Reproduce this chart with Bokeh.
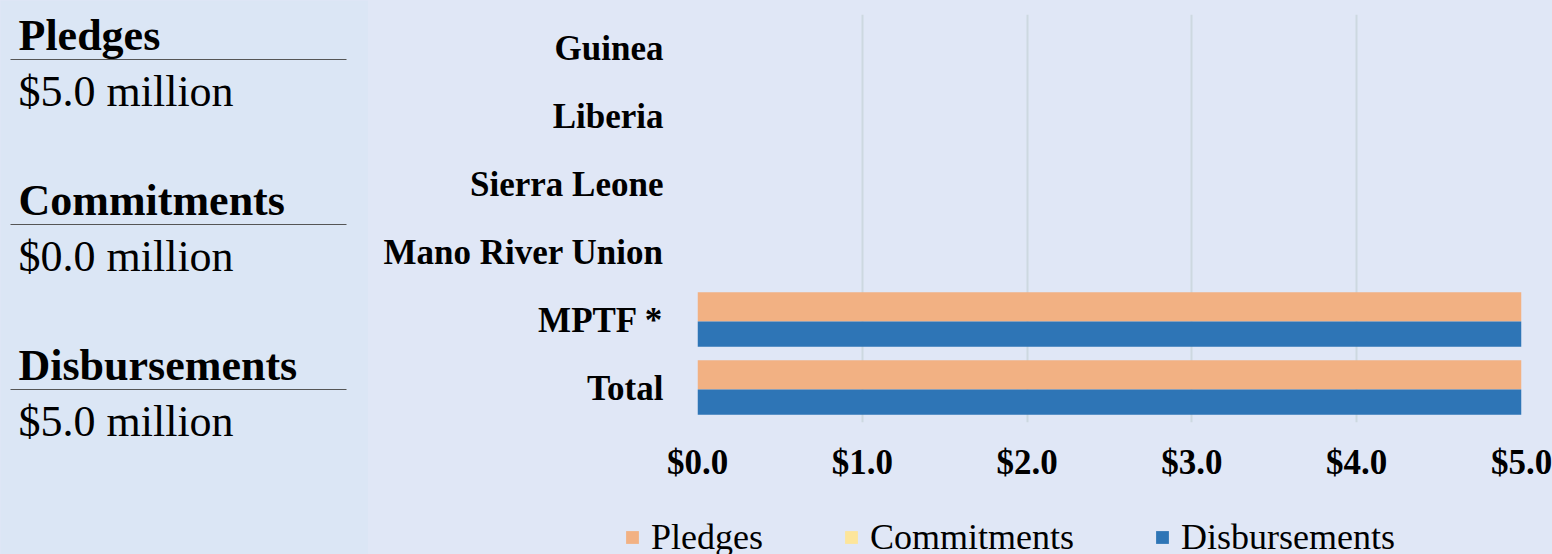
from bokeh.plotting import figure
from bokeh.layouts import row, column
from bokeh.models import (FactorRange, Range1d, FixedTicker, NumeralTickFormatter,
                          ColumnDataSource, Legend, LegendItem)
from bokeh.transform import dodge
from bokeh.embed import file_html
from bokeh.resources import INLINE
from bokeh.core.properties import value

# ---- data ----
categories = ["Guinea", "Liberia", "Sierra Leone", "Mano River Union", "MPTF *", "Total"]
pledges = [0.0, 0.0, 0.0, 0.0, 5.0, 5.0]
commitments = [0.0, 0.0, 0.0, 0.0, 0.0, 0.0]
disbursements = [0.0, 0.0, 0.0, 0.0, 5.0, 5.0]
x_ticks = [0, 1, 2, 3, 4, 5]
series_names = ["Pledges", "Commitments", "Disbursements"]

summary_titles = ["Pledges", "Commitments", "Disbursements"]
summary_values = [5.0, 0.0, 5.0]

SERIF = "Liberation Serif"
LEFT_BG = "#dbe6f5"
RIGHT_BG = "#e0e7f6"
C_PLEDGE = "#f2b183"
C_COMMIT = "#fde59a"
C_DISB = "#2e75b6"
series_colors = [C_PLEDGE, C_COMMIT, C_DISB]

# ---- left summary panel ----
W_LEFT = 368
H = 554
left = figure(width=W_LEFT, height=H, x_range=Range1d(0, W_LEFT), y_range=Range1d(H, 0),
              output_backend="svg", toolbar_location=None, min_border=0)
left.axis.visible = False
left.grid.visible = False
left.outline_line_color = None
left.background_fill_color = LEFT_BG
left.border_fill_color = LEFT_BG

step = 165
n = len(summary_titles)
src_l = ColumnDataSource(dict(
    x=[18] * n,
    hy=[35 + i * step for i in range(n)],
    vy=[91 + i * step for i in range(n)],
    ly=[59 + i * step for i in range(n)],
    x0=[10] * n, x1=[346] * n,
    title=summary_titles,
    val=["${:.1f} million".format(v) for v in summary_values]))
left.text(x="x", y="hy", text="title", source=src_l, text_font=value(SERIF),
          text_font_size="44px", text_font_style="bold", text_color="black",
          text_baseline="middle", text_align="left")
left.text(x="x", y="vy", text="val", source=src_l, text_font=value(SERIF),
          text_font_size="44px", text_color="black",
          text_baseline="middle", text_align="left")
left.segment(x0="x0", y0="ly", x1="x1", y1="ly", source=src_l,
             line_color="#555555", line_width=1.2)

# ---- right bar chart ----
W_RIGHT = 1552 - W_LEFT
H_LEG = 44
factors = list(reversed(categories))
src = ColumnDataSource(dict(cat=categories, pledges=pledges,
                            commitments=commitments, disbursements=disbursements))

p = figure(width=W_RIGHT, height=H - H_LEG, y_range=FactorRange(*factors, range_padding=0),
           x_range=Range1d(0, 5), output_backend="svg", toolbar_location=None,
           min_border_left=329, min_border_right=31, min_border_top=14,
           min_border_bottom=88)
p.background_fill_color = RIGHT_BG
p.border_fill_color = RIGHT_BG
p.outline_line_color = None

p.hbar(y=dodge("cat", 0.2, range=p.y_range), right="pledges", left=0, height=0.43,
       source=src, fill_color=C_PLEDGE, line_color=None)
p.hbar(y=dodge("cat", 0.0, range=p.y_range), right="commitments", left=0, height=0.0,
       source=src, fill_color=C_COMMIT, line_color=None)
p.hbar(y=dodge("cat", -0.2, range=p.y_range), right="disbursements", left=0, height=0.37,
       source=src, fill_color=C_DISB, line_color=None)

p.xaxis.ticker = FixedTicker(ticks=x_ticks)
p.xaxis.formatter = NumeralTickFormatter(format="$0.0")
for ax in (p.xaxis, p.yaxis):
    ax.axis_line_color = None
    ax.major_tick_line_color = None
    ax.minor_tick_line_color = None
    ax.major_tick_in = 0
    ax.major_tick_out = 0
    ax.major_label_text_font = SERIF
    ax.major_label_text_font_style = "bold"
    ax.major_label_text_color = "black"
p.xaxis.major_label_text_font_size = "35px"
p.yaxis.major_label_text_font_size = "35px"
p.xaxis.major_label_standoff = 20
p.yaxis.major_label_standoff = 34

p.ygrid.grid_line_color = None
p.xgrid.grid_line_color = "#cdd8e0"
p.xgrid.grid_line_width = 2

# ---- legend strip ----
lg = figure(width=W_RIGHT, height=H_LEG, x_range=Range1d(0, 1), y_range=Range1d(0, 1),
            output_backend="svg", toolbar_location=None, min_border=0)
lg.axis.visible = False
lg.grid.visible = False
lg.outline_line_color = None
lg.background_fill_color = RIGHT_BG
lg.border_fill_color = RIGHT_BG
items = []
for name, col in zip(series_names, series_colors):
    r = lg.hbar(y=[0.5], right=[0], left=[0], height=0.5, fill_color=col, line_color=None)
    items.append(LegendItem(label=name, renderers=[r]))
legend = Legend(items=items, orientation="horizontal", location=(256, -4),
                background_fill_alpha=0, border_line_color=None,
                label_text_font=SERIF, label_text_font_size="36px",
                label_text_color="black", glyph_width=16, glyph_height=16,
                label_standoff=11, spacing=80, padding=0, margin=0,
                label_height=30)
lg.add_layout(legend, "center")

right_col = column(p, row(lg, spacing=0), spacing=0,
                   styles={"background-color": RIGHT_BG})
layout = row(left, right_col, spacing=0, styles={"background-color": RIGHT_BG})
open("out.html", "w").write(file_html(layout, INLINE))
